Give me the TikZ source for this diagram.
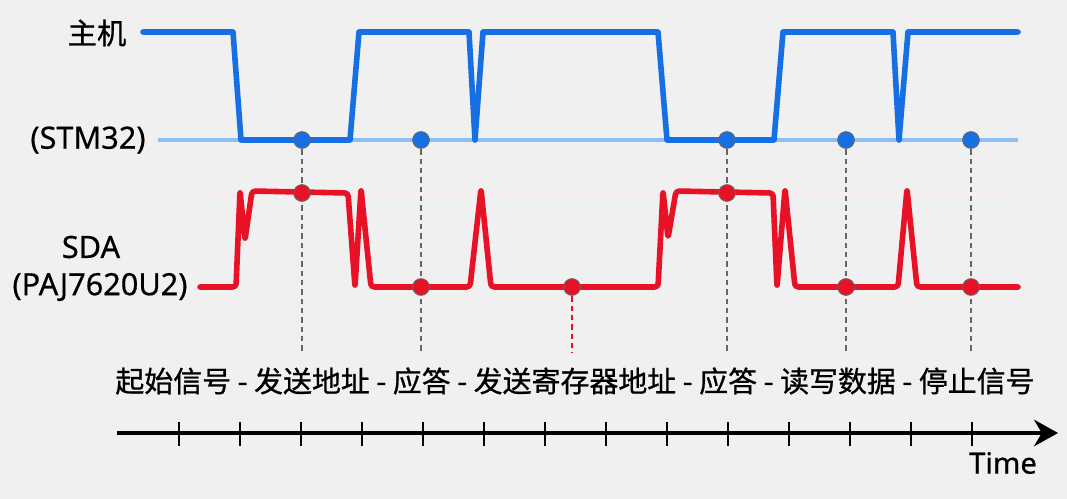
\documentclass[tikz,border=0pt]{standalone}
\usepackage{fontspec}
\setmainfont{Noto Sans}[FakeBold=0.5]
\newfontfamily\cjk{Noto Sans CJK SC}[FakeBold=0.8]
\usetikzlibrary{arrows.meta}

\definecolor{azulsda}{RGB}{22,112,228}
\definecolor{azulbase}{RGB}{140,192,242}
\definecolor{rojosda}{RGB}{232,18,38}
\definecolor{fondo}{RGB}{240,240,240}

\tikzset{
  senal/.style={line width=4.2pt, line join=round, line cap=round},
  punto/.style={circle, draw=black!60, line width=0.7pt, inner sep=0pt, minimum size=12.5pt},
  guia/.style={draw=black!60, line width=0.9pt, dash pattern=on 4pt off 3pt},
  etiqueta/.style={font=\fontsize{23}{27}\selectfont, inner sep=0pt}
}

\begin{document}
\begin{tikzpicture}[x=0.75pt, y=-0.75pt]
    % parámetros
    \def\hi{32}     % nivel alto SCL
    \def\lo{140}    % nivel bajo SCL
    \def\rhi{193}   % nivel alto SDA
    \def\rlo{287}   % nivel bajo SDA
    \def\fin{353}   % final de las guías
    \def\eje{433}   % eje de tiempo

    % fondo
    \fill[fondo] (0,0) rectangle (1067,499);
    \useasboundingbox (0,0) rectangle (1067,499);

    %—————— Línea del maestro ——————————————————————————————————————————————
    \draw[azulbase, line width=2.4pt] (158,\lo) -- (1018,\lo);
    \draw[rojosda!8, line width=1.2pt] (200,\rhi) -- (1018,\rhi);
    \draw[azulsda, senal] (143,\hi) -- (233,\hi) -- (241,\lo) -- (350,\lo)
      -- (359,\hi) -- (469,\hi) -- (475,\lo) -- (483,\hi) -- (658,\hi)
      -- (667,\lo) -- (774,\lo) -- (783,\hi) -- (893,\hi) -- (899,\lo)
      -- (908,\hi) -- (1018,\hi);

    %—————— Línea SDA ——————————————————————————————————————————————————————
    \draw[rojosda, senal, rounded corners=2.5pt] (200,\rlo) -- (236,\rlo) -- (240,191) -- (245,240)
      -- (252,191) -- (348,\rhi) -- (355,\rlo) -- (361,189) -- (371,\rlo)
      -- (470,\rlo) -- (481,189) -- (491,\rlo) -- (658,\rlo) -- (663,191)
      -- (668,238) -- (676,191) -- (773,\rhi) -- (777,\rlo) -- (785,189)
      -- (795,\rlo) -- (898,\rlo) -- (907,189) -- (917,\rlo) -- (1018,\rlo);

    % guías verticales
    \coordinate (g1) at (302,\fin);
    \coordinate (g2) at (421,\fin);
    \coordinate (g3) at (572,\fin);
    \coordinate (g4) at (727,\fin);
    \coordinate (g5) at (846,\fin);
    \coordinate (g6) at (971,\fin);
    \path (302,\lo) coordinate (b1) (421,\lo) coordinate (b2)
      (727,\lo) coordinate (b4) (846,\lo) coordinate (b5) (971,\lo) coordinate (b6)
      (572,\rlo) coordinate (r3);
    \draw[guia] (b1) -- (g1);
    \draw[guia] (b2) -- (g2);
    \draw[guia, draw=rojosda] (r3) -- (g3);
    \draw[guia] (b4) -- (g4);
    \draw[guia] (b5) -- (g5);
    \draw[guia] (b6) -- (g6);

    % puntos de muestreo
    \node[punto, fill=azulsda] (pb1) at (b1) {};
    \node[punto, fill=azulsda] (pb2) at (b2) {};
    \node[punto, fill=azulsda] (pb4) at (b4) {};
    \node[punto, fill=azulsda] (pb5) at (b5) {};
    \node[punto, fill=azulsda] (pb6) at (b6) {};
    \node[punto, fill=rojosda] (pr1) at (302,\rhi) {};
    \node[punto, fill=rojosda] (pr2) at (421,\rlo) {};
    \node[punto, fill=rojosda] (pr3) at (r3) {};
    \node[punto, fill=rojosda] (pr4) at (727,\rhi) {};
    \node[punto, fill=rojosda] (pr5) at (846,\rlo) {};
    \node[punto, fill=rojosda] (pr6) at (971,\rlo) {};

    % etiquetas
    \node[etiqueta, font=\cjk\fontsize{22}{26}\selectfont] (maestro) at (97,33) {主机};
    \node[etiqueta] (stm) at (88,140) {(STM32)};
    \node[etiqueta] (sda) at (91,247) {SDA};
    \node[etiqueta] (paj) at (100,287) {(PAJ7620U2)};

    %—————— Eje de tiempo ——————————————————————————————————————————————————
    \node[etiqueta, font=\cjk\fontsize{21.7}{25}\selectfont] (fases) at (575,381)
      {起始信号 - 发送地址 - 应答 - 发送寄存器地址 - 应答 - 读写数据 - 停止信号};
    \coordinate (t0) at (117,\eje);
    \coordinate (t1) at (1058,\eje);
    \draw[line width=2.3pt, -{Stealth[length=18pt, width=20pt]}] (t0) -- (t1);
    \foreach \k in {0,...,13}
      \draw[line width=1.9pt] ({179+61*\k},422) -- ({179+61*\k},446);
    \node[etiqueta, font=\fontsize{22}{26}\selectfont] (tiempo) at (1003,463) {Time};
\end{tikzpicture}
\end{document}
